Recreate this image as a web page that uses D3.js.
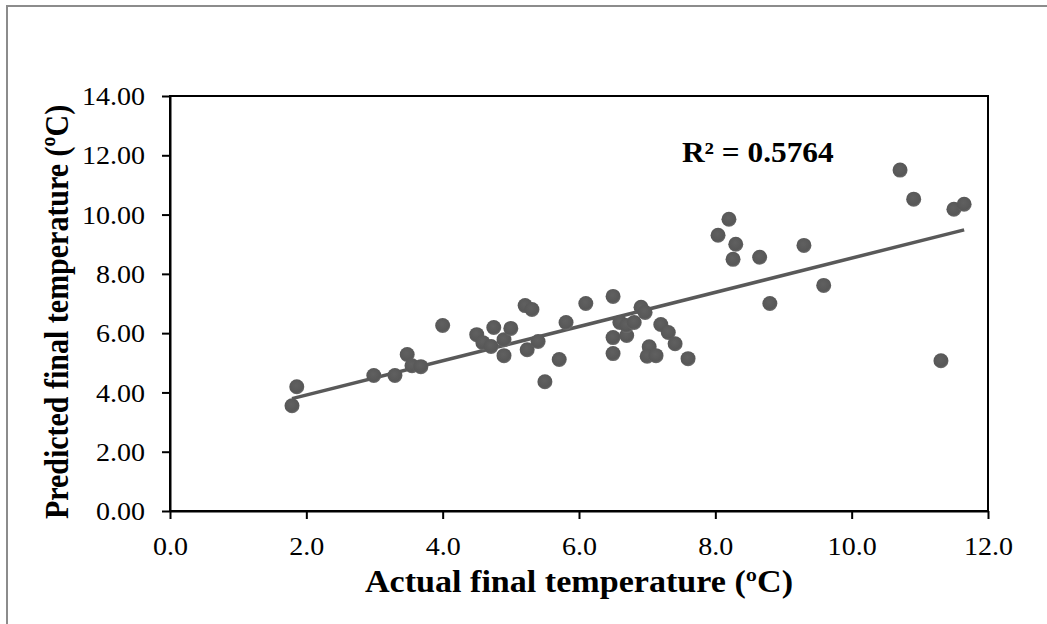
<!DOCTYPE html>
<html>
<head>
<meta charset="utf-8">
<script src="https://cdn.jsdelivr.net/npm/d3@7"></script>
<style>
    body { margin: 0; background: #fff; }
    svg text { font-family: "Liberation Serif", "Times New Roman", serif; fill: #000; }
</style>
</head>
<body>
<div id="chart"></div>
<script>
// actual final temperature (x) vs predicted final temperature (y)
let actualTemp = [1.79, 1.86, 2.99, 3.30, 3.48, 3.55, 3.68, 4.00, 4.50, 4.59, 4.71, 4.75, 4.90, 4.90,
    5.00, 5.21, 5.31, 5.24, 5.40, 5.71, 5.50, 5.81, 6.10, 6.50, 6.50, 6.50, 6.60, 6.70, 6.70, 6.81,
    6.91, 6.97, 7.03, 7.00, 7.13, 7.20, 7.31, 7.41, 7.60, 8.04, 8.20, 8.30, 8.26, 8.65, 8.80, 9.30,
    9.59, 10.71, 10.91, 11.50, 11.65, 11.31];
let predictedTemp = [3.55, 4.19, 4.57, 4.57, 5.28, 4.90, 4.87, 6.26, 5.95, 5.68, 5.55, 6.19, 5.78, 5.24,
    6.16, 6.93, 6.80, 5.44, 5.72, 5.11, 4.36, 6.36, 7.00, 7.24, 5.85, 5.31, 6.36, 5.92, 6.26, 6.36,
    6.87, 6.70, 5.54, 5.22, 5.24, 6.29, 6.02, 5.64, 5.14, 9.30, 9.84, 9.00, 8.49, 8.56, 7.00, 8.96,
    7.61, 11.50, 10.52, 10.18, 10.35, 5.07];
let xTicks = [0, 2, 4, 6, 8, 10, 12];
let yTicks = [0, 2, 4, 6, 8, 10, 12, 14];
let rSquaredLabel = "R² = 0.5764";

let points = actualTemp.map((d, i) => ({x: d, y: predictedTemp[i]}));

let margin = {top: 96, right: 59, bottom: 113, left: 170};
let width = 1047, height = 624;
let innerW = width - margin.left - margin.right;
let innerH = height - margin.top - margin.bottom;
let stretch = 1.1; // text in the original looks a bit wider than the font

let svg = d3.select("#chart").append("svg")
    .attr("width", width)
    .attr("height", height);

// outer chart border
svg.append("rect")
    .attr("x", 7).attr("y", 6)
    .attr("width", 1100).attr("height", 700)
    .attr("fill", "none")
    .attr("stroke", "#8c8c8c")
    .attr("stroke-width", 2);

let defs = svg.append("defs");
let grad = defs.append("radialGradient")
    .attr("id", "dotGrad")
    .attr("cx", "45%").attr("cy", "40%").attr("r", "60%");
grad.append("stop").attr("offset", "0%").attr("stop-color", "#606060");
grad.append("stop").attr("offset", "80%").attr("stop-color", "#575757");
grad.append("stop").attr("offset", "100%").attr("stop-color", "#6e6e6e");

let g = svg.append("g")
    .attr("transform", "translate(" + margin.left + "," + margin.top + ")");

let x = d3.scaleLinear().domain([0, 12]).range([0, innerW]);
let y = d3.scaleLinear().domain([0, 14]).range([innerH, 0]);

// plot frame
g.append("rect")
    .attr("width", innerW).attr("height", innerH)
    .attr("fill", "none")
    .attr("stroke", "#000")
    .attr("stroke-width", 2);

let xAxis = d3.axisBottom(x)
    .tickValues(xTicks)
    .tickFormat(d3.format(".1f"))
    .tickSize(8)
    .tickSizeOuter(0);
let yAxis = d3.axisLeft(y)
    .tickValues(yTicks)
    .tickFormat(d3.format(".2f"))
    .tickSize(8)
    .tickSizeOuter(0);

let gx = g.append("g")
    .attr("transform", "translate(0," + innerH + ")")
    .call(xAxis);
let gy = g.append("g").call(yAxis);

[gx, gy].forEach(ax => {
    ax.select(".domain").attr("stroke", "#000").attr("stroke-width", 2);
    ax.selectAll(".tick line").attr("stroke", "#000").attr("stroke-width", 2);
    ax.selectAll(".tick text")
        .attr("font-family", "Liberation Serif, serif")
        .style("font-size", "25.5px")
        .attr("fill", "#000");
});
gx.selectAll(".tick text")
    .attr("y", 0).attr("dy", 0)
    .attr("transform", "translate(0,44) scale(" + stretch + ",1)");
gy.selectAll(".tick text")
    .attr("x", 0).attr("dy", "0.34em")
    .attr("transform", "translate(-25,0) scale(" + stretch + ",1)");

// trend line (least squares over the points)
let mx = d3.mean(points, d => d.x), my = d3.mean(points, d => d.y);
let slope = d3.sum(points, d => (d.x - mx) * (d.y - my)) / d3.sum(points, d => (d.x - mx) * (d.x - mx));
let intercept = my - slope * mx;
let xExt = d3.extent(points, d => d.x);

g.append("line")
    .attr("x1", x(xExt[0])).attr("y1", y(slope * xExt[0] + intercept))
    .attr("x2", x(xExt[1])).attr("y2", y(slope * xExt[1] + intercept))
    .attr("stroke", "#595959")
    .attr("stroke-width", 3.5);

g.selectAll(".dot")
    .data(points)
    .enter().append("circle")
    .attr("class", "dot")
    .attr("cx", d => x(d.x))
    .attr("cy", d => y(d.y))
    .attr("r", 7.5)
    .attr("fill", "url(#dotGrad)");

// R squared label
svg.append("text")
    .attr("transform", "translate(682,162) scale(" + stretch + ",1)")
    .style("font-size", "28.5px")
    .attr("font-weight", "bold")
    .text(rSquaredLabel);

// axis titles
svg.append("text")
    .attr("transform", "translate(579,592) scale(" + stretch + ",1)")
    .attr("text-anchor", "middle")
    .style("font-size", "31px")
    .attr("font-weight", "bold")
    .text("Actual final temperature (ºC)");

svg.append("text")
    .attr("transform", "translate(68,312) scale(" + stretch + ",1) rotate(-90)")
    .attr("text-anchor", "middle")
    .style("font-size", "30px")
    .attr("font-weight", "bold")
    .text("Predicted final temperature (ºC)");
</script>
</body>
</html>
